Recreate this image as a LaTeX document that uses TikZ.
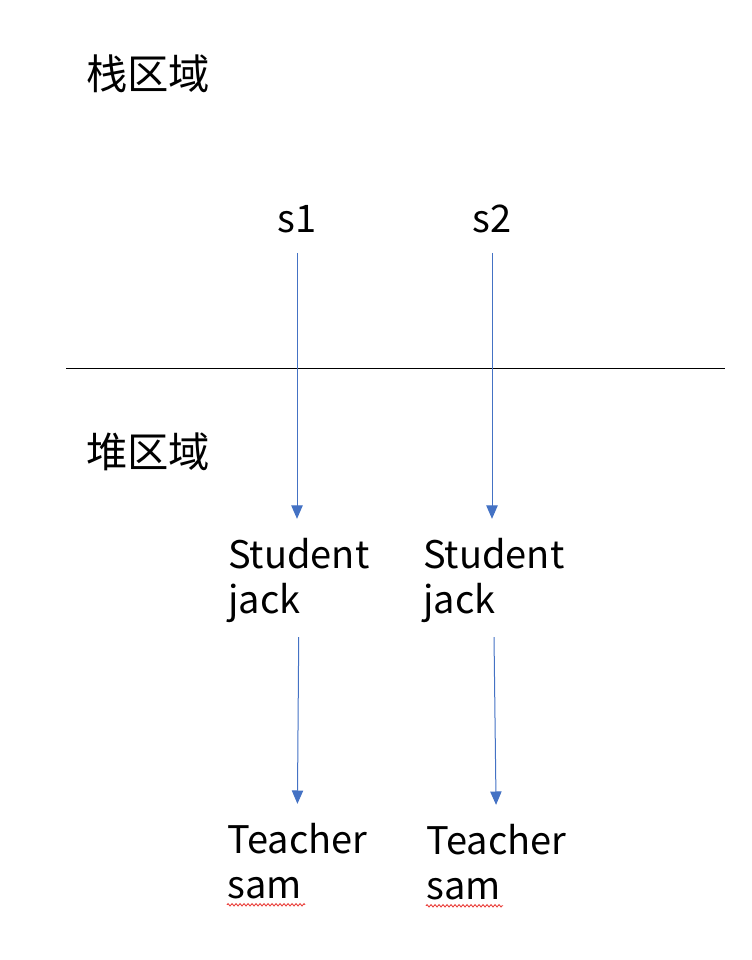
\documentclass[tikz,border=0pt]{standalone}
\usepackage{fontspec}
\setmainfont{Noto Sans CJK SC}
\usetikzlibrary{arrows.meta,decorations.pathmorphing}
\definecolor{refblue}{HTML}{4472C4}
\definecolor{spellred}{HTML}{E8302A}
\begin{document}
\begin{tikzpicture}[x=0.75pt,y=-0.75pt]
    \tikzstyle{every node}+=[inner sep=0pt, font=\fontsize{28.5}{33.75}\selectfont]
    \tikzstyle{area}=[anchor=base west, font=\fontsize{31}{36}\selectfont]
    \tikzstyle{ref}=[refblue, line width=0.75pt, -{Triangle[length=10pt,width=8.5pt]}]
    \tikzstyle{obj}=[align=left, anchor=base west]
    \tikzstyle{spell}=[spellred, line width=0.6pt, decorate, decoration={zigzag, segment length=3pt, amplitude=0.9pt}]
    \useasboundingbox (0,0) rectangle (752,960);
    \node [area] (stack) at (86,89) {栈区域};
    \node [area] (heap) at (86,467) {堆区域};
    \draw [black, line width=0.6pt] (66,368) -- (725,368);
    \node [anchor=base] (s1) at (297,232) {s1};
    \node [anchor=base] (s2) at (492,232) {s2};
    \node [obj] (stu1) at (228,613) {Student\\jack};
    \node [obj] (stu2) at (423,613) {Student\\jack};
    \node [obj] (tea1) at (227,898) {Teacher\\sam};
    \node [obj] (tea2) at (426,899) {Teacher\\sam};
    \draw [ref, shorten <=15pt, shorten >=14pt] (s1.south) -- (s1.south |- stu1.north);
    \draw [ref, shorten <=15pt, shorten >=14pt] (s2.south) -- (s2.south |- stu2.north);
    \draw [ref, shorten <=11pt, shorten >=14pt] (stu1.south) -- (tea1.north);
    \draw [ref, shorten <=11pt, shorten >=14pt] (stu2.south) -- (tea2.north);
    \draw [spell] ([yshift=-4.5pt]tea1.south west) -- ++(78,0);
    \draw [spell] ([yshift=-4.5pt]tea2.south west) -- ++(77,0);
\end{tikzpicture}
\end{document}
